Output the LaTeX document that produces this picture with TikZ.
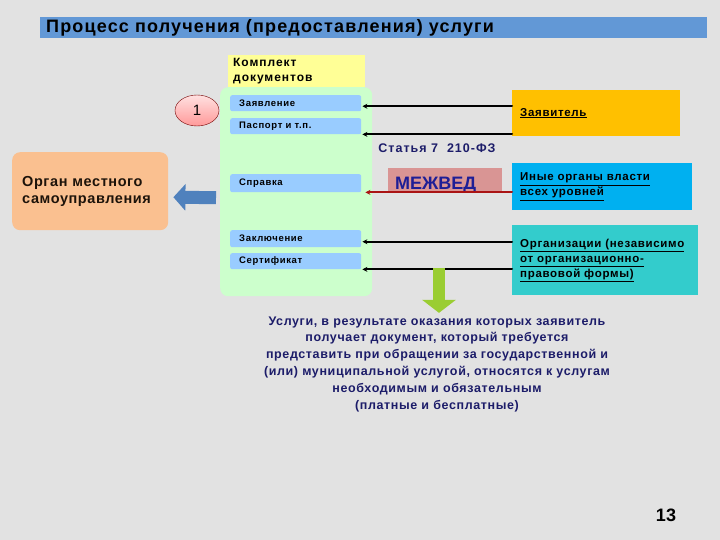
\documentclass[tikz,border=0pt]{standalone}
\usepackage{fontspec}
\setmainfont{Liberation Sans}
\usetikzlibrary{arrows.meta,shapes.geometric}
\definecolor{bggray}{RGB}{226,226,226}
\definecolor{titleblue}{RGB}{98,152,214}
\definecolor{kityellow}{RGB}{255,255,150}
\definecolor{kitgreen}{RGB}{204,255,204}
\definecolor{barblue}{RGB}{153,204,255}
\definecolor{applorange}{RGB}{255,192,0}
\definecolor{orgcyan}{RGB}{0,176,240}
\definecolor{orgteal}{RGB}{51,204,204}
\definecolor{localpeach}{RGB}{250,192,144}
\definecolor{mezhpink}{RGB}{217,149,148}
\definecolor{steelarrow}{RGB}{79,129,189}
\definecolor{limearrow}{RGB}{154,205,50}
\definecolor{navytext}{RGB}{28,28,105}
\definecolor{mezhblue}{RGB}{30,30,150}
\definecolor{redline}{RGB}{170,20,20}
\newcommand{\lspace}[1]{\addfontfeature{LetterSpace=#1}}

\begin{document}
\begin{tikzpicture}[x=1pt,y=-1pt,line cap=round,
  bar/.style={anchor=north west,fill=barblue,rounded corners=2pt,text width=113pt,
    inner xsep=9pt,inner ysep=0pt,minimum height=16pt,font=\bfseries\fontsize{9.5}{10}\selectfont\lspace{7}},
  source/.style={anchor=north west,inner xsep=8pt,align=left,
    font=\bfseries\fontsize{11.5}{15}\selectfont\lspace{6}},
  docarr/.style={-{Stealth[length=5pt,width=5pt]},line width=2pt},
  blockarr/.style={line width=13pt,-{Triangle[length=12pt,width=26pt]}}]
% background and title
\fill[bggray] (0,0) rectangle (720,540);
\node[anchor=north west,fill=titleblue,minimum width=667pt,minimum height=21pt,
  text width=655pt,inner xsep=6pt,inner ysep=1pt,font=\bfseries\fontsize{18}{18}\selectfont\lspace{6.5}]
  (title) at (40,17) {Процесс получения (предоставления) услуги};
% document set
\node[anchor=north west,fill=kitgreen,rounded corners=8pt,minimum width=152pt,
  minimum height=209pt] (kit) at (220,87) {};
\node[anchor=north west,fill=kityellow,minimum width=137pt,minimum height=32pt,
  text width=127pt,inner xsep=5pt,inner ysep=0pt,align=left,
  font=\bfseries\fontsize{12}{15.5}\selectfont\lspace{8}] (kithead) at (228,55) {Комплект\\документов};
\node[bar] (zayavl) at (230,95) {Заявление};
\node[bar] (pasp) at (230,118) {Паспорт и т.п.};
\node[bar,minimum height=18pt] (sprav) at (230,174) {Справка};
\node[bar,minimum height=17pt] (zakl) at (230,230) {Заключение};
\node[bar] (sert) at (230,253) {Сертификат};
\node[ellipse,draw=red!45!black,top color=red!12,bottom color=red!40,minimum width=44pt,
  minimum height=31pt,inner sep=0pt,font=\fontsize{15}{15}\selectfont] (one) at (197,110.5) {1};
% sources
\node[source,fill=applorange,text width=152pt,minimum height=46pt] (appl) at (512,90)
  {\underline{Заявитель}};
\node[source,fill=orgcyan,text width=164pt,minimum height=47pt,inner ysep=6pt] (inyye) at (512,163)
  {\underline{Иные органы власти}\\\underline{всех уровней}};
\node[source,fill=orgteal,text width=170pt,minimum height=70pt,inner ysep=8pt] (orgs) at (512,225)
  {\underline{Организации (независимо}\\\underline{от организационно-}\\\underline{правовой формы)}};
\node[text=navytext,font=\bfseries\fontsize{12.5}{12}\selectfont\lspace{8}] (statya) at (437,148) {Статья 7\ \ 210-ФЗ};
\node[anchor=north west,fill=mezhpink,minimum width=114pt,minimum height=23pt,inner sep=0pt] (mezhved) at (388,168) {};
\node[anchor=base west,inner sep=0pt,text=mezhblue,font=\bfseries\fontsize{18}{18}\selectfont]
  (mezhtext) at ([xshift=7pt,yshift=-22pt]mezhved.north west) {МЕЖВЕД};
% local authority
\node[anchor=north west,fill=localpeach,rounded corners=8pt,minimum width=156pt,
  minimum height=78pt,text width=140pt,inner xsep=8pt,align=left,text=black!85!brown,
  font=\bfseries\fontsize{14.5}{17.5}\selectfont\lspace{4}] (organ) at (12,152) {\hspace{2pt}Орган местного\\\hspace*{2pt}самоуправления};
% connectors
\draw[docarr] ([yshift=-3pt]appl.west |- zayavl.east) -- ([yshift=-3pt,xshift=1pt]zayavl.east);
\draw[docarr] (appl.west |- pasp.south east) -- ([xshift=1pt]pasp.south east);
\draw[docarr,redline] (inyye.west |- sprav.south east) -- ([xshift=4pt]sprav.south east);
\draw[docarr] ([yshift=-3pt]orgs.west |- zakl.east) -- ([yshift=-3pt,xshift=1pt]zakl.east);
\draw[docarr] (orgs.west |- sert.south east) -- ([xshift=1pt]sert.south east);
\draw[blockarr,steelarrow,line cap=butt] ([yshift=-6pt,xshift=-4pt]kit.west) -- ([yshift=-6pt,xshift=5pt]organ.east);
% result
\node[align=center,text=navytext,font=\bfseries\fontsize{12.5}{16.8}\selectfont\lspace{5}] (result) at (437,364)
  {Услуги, в результате оказания которых заявитель\\получает документ, который требуется\\
   представить при обращении за государственной и\\(или) муниципальной услугой, относятся к услугам\\
   необходимым и обязательным\\(платные и бесплатные)};
\coordinate (gtop) at (439,268);
\draw[limearrow,line cap=butt,line width=12pt,-{Triangle[length=13pt,width=33pt]}] (gtop) -- (gtop |- result.north);
\node[font=\bfseries\fontsize{18}{18}\selectfont] (pagenum) at (666,515) {13};
\end{tikzpicture}
\end{document}
